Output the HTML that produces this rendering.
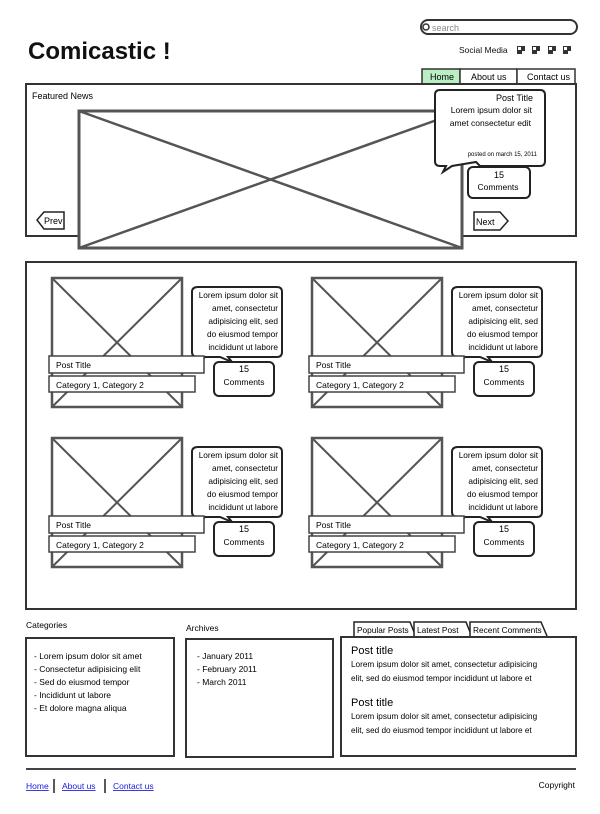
<!DOCTYPE html>
<html><head><meta charset="utf-8"><style>
html,body{margin:0;padding:0;background:#fff;}
svg{display:block;font-family:"Liberation Sans",sans-serif;}
</style></head><body>
<svg width="600" height="814" viewBox="0 0 600 814" xmlns="http://www.w3.org/2000/svg">
<g fill="none" stroke="#333" stroke-width="2">
<rect x="421" y="20" width="156" height="14" rx="7"/>
<circle cx="426" cy="27" r="3" stroke-width="1.5"/>
</g>
<text x="432" y="31" font-size="9" fill="#888">search</text>
<text x="28" y="59" font-size="24" font-weight="bold" fill="#111">Comicastic !</text>
<text x="459" y="53" font-size="8.5" fill="#111">Social Media</text>
<g fill="#333">
<rect x="517" y="46" width="8" height="8"/><rect x="532" y="46" width="8" height="8"/><rect x="548" y="46" width="8" height="8"/><rect x="563" y="46" width="8" height="8"/>
</g>
<g fill="#fff">
<rect x="518" y="47" width="3" height="3"/><rect x="522" y="51" width="3" height="3"/><rect x="533" y="47" width="3" height="3"/><rect x="537" y="51" width="3" height="3"/><rect x="549" y="47" width="3" height="3"/><rect x="553" y="51" width="3" height="3"/><rect x="564" y="47" width="3" height="3"/><rect x="568" y="51" width="3" height="3"/>
</g>
<rect x="422" y="69" width="38" height="15" fill="#b9efc3" stroke="#333" stroke-width="1.5"/>
<rect x="460" y="69" width="57" height="15" fill="#fff" stroke="#333" stroke-width="1.5"/>
<rect x="517" y="69" width="58" height="15" fill="#fff" stroke="#333" stroke-width="1.5"/>
<text x="430" y="80" font-size="9">Home</text>
<text x="471" y="80" font-size="9">About us</text>
<text x="527" y="80" font-size="9">Contact us</text>
<rect x="26" y="84" width="550" height="152" fill="none" stroke="#333" stroke-width="2"/>
<text x="32" y="99" font-size="9">Featured News</text>
<rect x="79" y="111" width="383" height="137" fill="#fff" stroke="#555" stroke-width="3"/>
<line x1="79" y1="111" x2="462" y2="248" stroke="#555" stroke-width="2.5"/>
<line x1="79" y1="248" x2="462" y2="111" stroke="#555" stroke-width="2.5"/>
<path d="M440 90 H540 Q545 90 545 95 V161 Q545 166 540 166 H480 L476 162 L452 166 L443 172 L446 166 H440 Q435 166 435 161 V95 Q435 90 440 90Z" fill="#fff" stroke="#222" stroke-width="2"/>
<text x="533" y="101" font-size="9" text-anchor="end">Post Title</text>
<text x="532" y="113" font-size="8.5" text-anchor="end">Lorem ipsum dolor sit</text>
<text x="531" y="126" font-size="8.5" text-anchor="end">amet consectetur edit</text>
<text x="537" y="156" font-size="6" text-anchor="end">posted on march 15, 2011</text>
<rect x="468" y="167" width="62" height="31" rx="5" fill="#fff" stroke="#222" stroke-width="2"/>
<text x="499" y="178" font-size="9" text-anchor="middle">15</text>
<text x="498" y="190" font-size="8.5" text-anchor="middle">Comments</text>
<path d="M44 212 H64 V229 H44 L37 220Z" fill="#fff" stroke="#222" stroke-width="1.5"/>
<text x="44" y="224" font-size="9">Prev</text>
<path d="M474 212 H500 L508 221 L500 230 H474Z" fill="#fff" stroke="#222" stroke-width="1.5"/>
<text x="476" y="225" font-size="9">Next</text>
<rect x="26" y="262" width="550" height="347" fill="none" stroke="#333" stroke-width="2"/>
<defs>
<g id="cell">
<rect x="52" y="278" width="130" height="129" fill="#fff" stroke="#555" stroke-width="2.5"/>
<line x1="52" y1="278" x2="182" y2="407" stroke="#555" stroke-width="2"/>
<line x1="52" y1="407" x2="182" y2="278" stroke="#555" stroke-width="2"/>
<path d="M198 287 H277 Q282 287 282 292 V352 Q282 357 277 357 H228 L232 362 L220 357 H205 L198 364 L200 357 H198 Q192 357 192 352 V292 Q192 287 198 287Z" fill="#fff" stroke="#222" stroke-width="2"/>
<text x="278" y="298" font-size="8.3" text-anchor="end">Lorem ipsum dolor sit</text>
<text x="278" y="311" font-size="8.3" text-anchor="end">amet, consectetur</text>
<text x="278" y="324" font-size="8.3" text-anchor="end">adipisicing elit, sed</text>
<text x="278" y="337" font-size="8.3" text-anchor="end">do eiusmod tempor</text>
<text x="278" y="350" font-size="8.3" text-anchor="end">incididunt ut labore</text>
<rect x="214" y="362" width="60" height="34" rx="5" fill="#fff" stroke="#222" stroke-width="2"/>
<text x="244" y="372" font-size="9" text-anchor="middle">15</text>
<text x="244" y="385" font-size="8.5" text-anchor="middle">Comments</text>
<rect x="49" y="356" width="155" height="17" fill="#fff" stroke="#444" stroke-width="1.5"/>
<text x="56" y="368" font-size="8.5">Post Title</text>
<rect x="49" y="376" width="146" height="16" fill="#fff" stroke="#444" stroke-width="1.5"/>
<text x="56" y="388" font-size="8.5">Category 1, Category 2</text>
</g>
</defs>
<use href="#cell"/>
<use href="#cell" x="260"/>
<use href="#cell" y="160"/>
<use href="#cell" x="260" y="160"/>
<text x="26" y="628" font-size="8.5">Categories</text>
<rect x="26" y="638" width="148" height="118" fill="none" stroke="#333" stroke-width="2"/>
<g font-size="8.5">
<text x="34" y="659">- Lorem ipsum dolor sit amet</text>
<text x="34" y="672">- Consectetur adipisicing elit</text>
<text x="34" y="685">- Sed do eiusmod tempor</text>
<text x="34" y="698">- Incididunt ut labore</text>
<text x="34" y="711">- Et dolore magna aliqua</text>
</g>
<text x="186" y="631" font-size="8.5">Archives</text>
<rect x="186" y="639" width="147" height="118" fill="none" stroke="#333" stroke-width="2"/>
<g font-size="8.5">
<text x="197" y="659">- January 2011</text>
<text x="197" y="672">- February 2011</text>
<text x="197" y="685">- March 2011</text>
</g>
<g fill="#fff" stroke="#222" stroke-width="1.5">
<path d="M354 636 V622 H410 L414 632"/>
<path d="M414 636 V622 H466 L470 632"/>
<path d="M470 636 V622 H541 L547 636"/>
</g>
<g font-size="8.3">
<text x="357" y="633">Popular Posts</text>
<text x="417" y="633">Latest Post</text>
<text x="473" y="633">Recent Comments</text>
</g>
<rect x="341" y="637" width="235" height="119" fill="none" stroke="#333" stroke-width="2"/>
<text x="351" y="654" font-size="11">Post title</text>
<text x="351" y="667" font-size="8.2">Lorem ipsum dolor sit amet, consectetur adipisicing</text>
<text x="351" y="681" font-size="8.2">elit, sed do eiusmod tempor incididunt ut labore et</text>
<text x="351" y="706" font-size="11">Post title</text>
<text x="351" y="719" font-size="8.2">Lorem ipsum dolor sit amet, consectetur adipisicing</text>
<text x="351" y="733" font-size="8.2">elit, sed do eiusmod tempor incididunt ut labore et</text>
<line x1="26" y1="769" x2="576" y2="769" stroke="#444" stroke-width="2"/>
<g font-size="8.5" fill="#1a1ae0" text-decoration="underline">
<text x="26" y="789">Home</text>
<text x="62" y="789">About us</text>
<text x="113" y="789">Contact us</text>
</g>
<line x1="54" y1="779" x2="54" y2="793" stroke="#222" stroke-width="1.5"/>
<line x1="105" y1="779" x2="105" y2="793" stroke="#222" stroke-width="1.5"/>
<text x="575" y="788" font-size="8.5" text-anchor="end">Copyright</text>
</svg>
</body></html>
